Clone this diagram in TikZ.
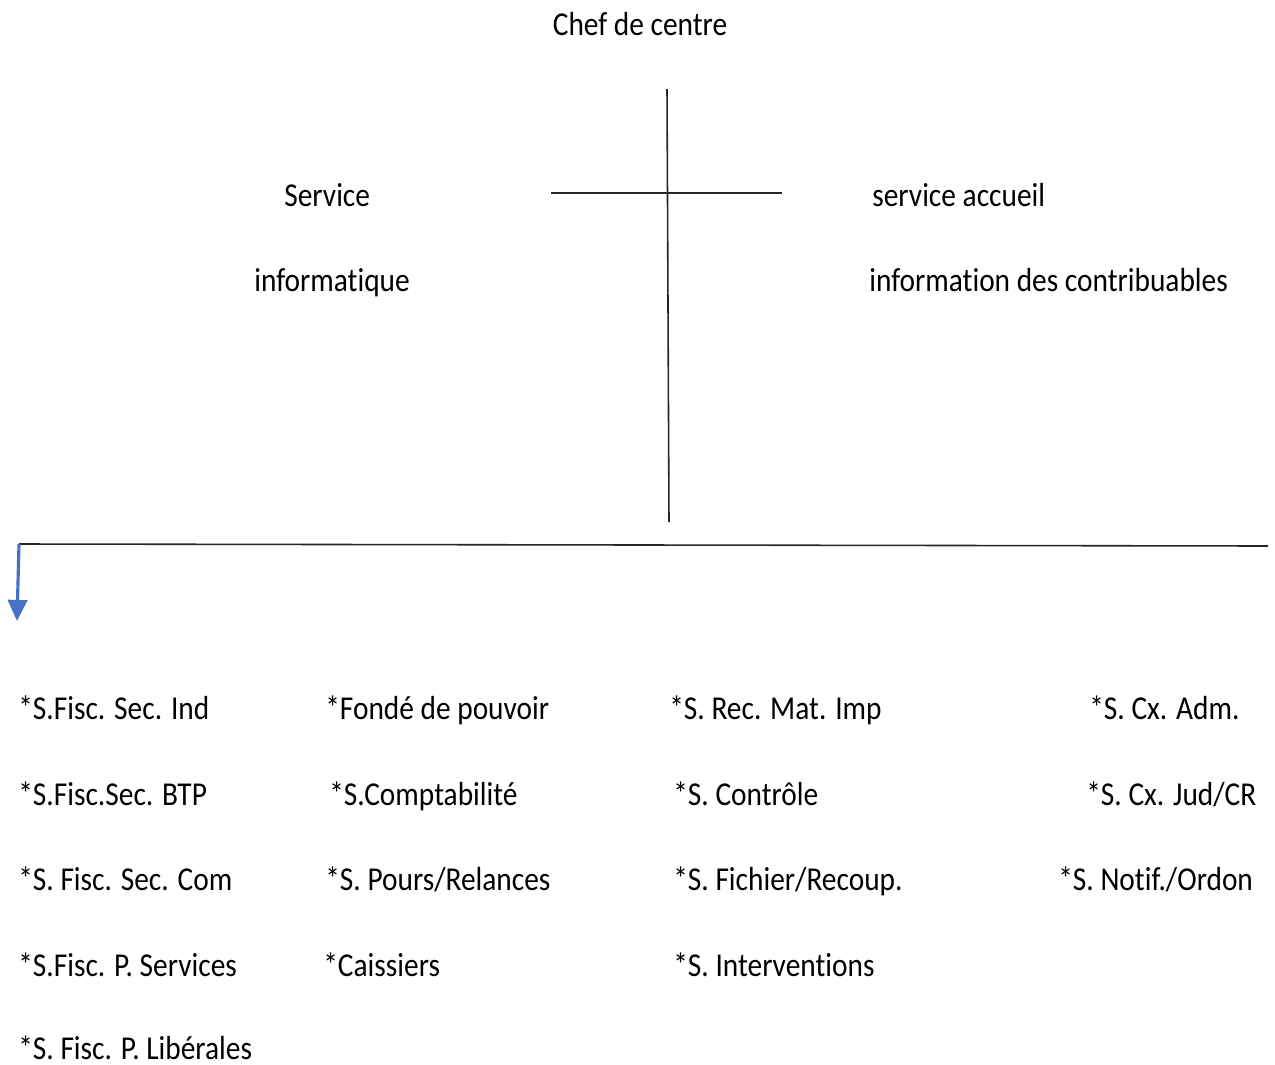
\documentclass[tikz,border=0pt]{standalone}
\usepackage{fontspec}
\setmainfont{Carlito}[FakeStretch=0.88,Ligatures={NoCommon}]
\usetikzlibrary{arrows.meta,positioning}
\definecolor{arrowblue}{RGB}{68,114,196}

\begin{document}
\begin{tikzpicture}[x=0.02cm,y=-0.02cm,
  lbl/.style={anchor=base west,inner sep=0pt,font=\fontsize{19}{22}\selectfont},
  trait/.style={line width=0.9pt,black!85}]
  \useasboundingbox (0,0) rectangle (1275,1065);
  % Top: chief
  \node[lbl,anchor=base] (chef) at (640,35) {Chef de centre};
  % Cross
  \coordinate (trunktop) at (667,89);
  \coordinate (trunkbot) at (669,522);
  \coordinate (armleft) at (551,193);
  \coordinate (armright) at (782,193);
  \draw[trait] (trunktop) -- (trunkbot);
  \draw[trait] (armleft) -- (armright);
  % Side services
  \node[lbl] (serv) at (284,206) {Service};
  \node[lbl] (info) at (254,291) {informatique};
  \node[lbl] (accueil) at (872,206) {service accueil};
  \node[lbl] (contrib) at (869,291) {information des contribuables};
  % Bottom bar and arrow
  \coordinate (barleft) at (19,544);
  \coordinate (barright) at (1268,546);
  \coordinate (arrowend) at (17,621);
  \draw[trait] (barleft) -- (barright);
  \draw[-{Triangle[length=12pt,width=11pt]},line width=1.8pt,arrowblue] (barleft) -- (arrowend);
  % Column 1
  \node[lbl] (fiscind) at (18,719) {*S.Fisc. Sec. Ind};
  \node[lbl] (fiscbtp) at (18,805) {*S.Fisc.Sec. BTP};
  \node[lbl] (fisccom) at (18,890) {*S. Fisc. Sec. Com};
  \node[lbl] (fiscserv) at (18,976) {*S.Fisc. P. Services};
  \node[lbl] (fisclib) at (18,1059) {*S. Fisc. P. Libérales};
  % Column 2
  \node[lbl] (fonde) at (325,719) {*Fondé de pouvoir};
  \node[lbl] (compta) at (329,805) {*S.Comptabilité};
  \node[lbl] (pours) at (325,890) {*S. Pours/Relances};
  \node[lbl] (caiss) at (323,976) {*Caissiers};
  % Column 3
  \node[lbl] (recmat) at (669,719) {*S. Rec. Mat. Imp};
  \node[lbl] (controle) at (673,805) {*S. Contrôle};
  \node[lbl] (fichier) at (673,890) {*S. Fichier/Recoup.};
  \node[lbl] (interv) at (673,976) {*S. Interventions};
  % Column 4
  \node[lbl] (cxadm) at (1089,719) {*S. Cx. Adm.};
  \node[lbl] (cxjud) at (1086,805) {*S. Cx. Jud/CR};
  \node[lbl] (notif) at (1058,890) {*S. Notif./Ordon};
\end{tikzpicture}
\end{document}
